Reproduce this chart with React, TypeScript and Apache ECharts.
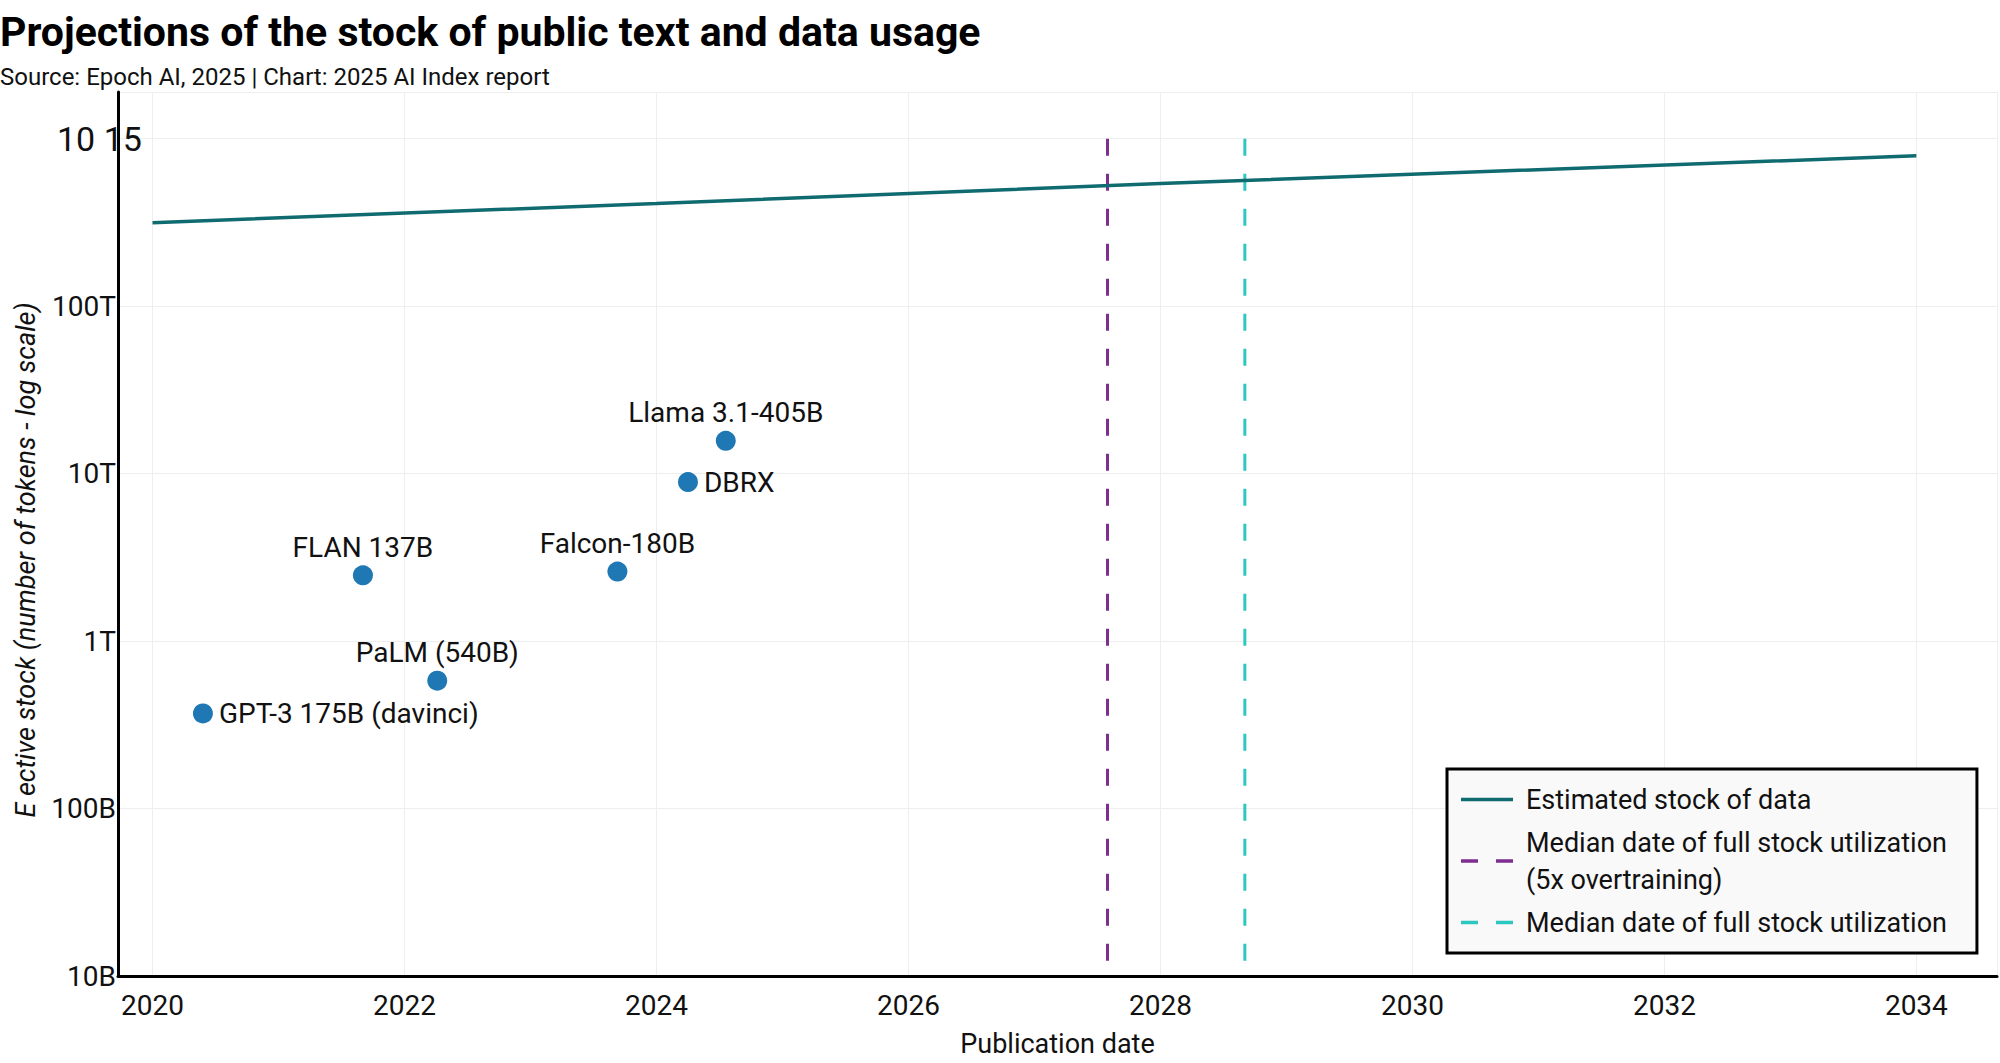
import { useEffect, useRef } from "react";
import * as echarts from "echarts";

// ---- data ----
const modelNames = [
  "GPT-3 175B (davinci)",
  "FLAN 137B",
  "PaLM (540B)",
  "Falcon-180B",
  "DBRX",
  "Llama 3.1-405B",
];
const modelDates = [2020.4, 2021.67, 2022.26, 2023.69, 2024.25, 2024.55];
const modelTokens = [3.7e11, 2.47e12, 5.8e11, 2.6e12, 8.9e12, 1.57e13];
const labelSides = ["right", "top", "top", "top", "right", "top"];

const stockYears = [2020, 2024, 2028, 2034];
const stockTokens = [3.15e14, 4.1e14, 5.4e14, 7.9e14];

const overtrainDate = 2027.58;
const fullUseDate = 2028.67;
const markerSpan = [1e15, 1e10];

const yTickExponents = [10, 11, 12, 13, 14, 15];
const yTickLabels = ["10B", "100B", "1T", "10T", "100T", "10 15"];

const stockName = "Estimated stock of data";
const overName = "Median date of full stock utilization\n(5x overtraining)";
const fullName = "Median date of full stock utilization";

const FONT = "Roboto, 'Noto Sans', 'DejaVu Sans', sans-serif";
const SOLID_ICON = "path://M0,0h52v3.5h-52z";
const DASH_ICON = "path://M0,0h17v3.5h-17z M35,0h17v3.5h-17z";

export default function App() {
  const ref = useRef<HTMLDivElement>(null);

  useEffect(() => {
    if (!ref.current) return;
    const chart = echarts.init(ref.current, undefined, { renderer: "svg" });

    const scatterData = modelNames.map((n, i) => ({
      name: n,
      value: [modelDates[i], modelTokens[i]],
      label: {
        position: labelSides[i],
        distance: labelSides[i] === "top" ? 3 : 6,
      },
    }));

    const option: any = {
      animation: false,
      backgroundColor: "#ffffff",
      textStyle: { fontFamily: FONT },
      title: [
        {
          text: "Projections of the stock of public text and data usage",
          left: 0,
          top: 9,
          padding: 0,
          textStyle: {
            fontFamily: FONT,
            fontSize: 41,
            fontWeight: "bold",
            color: "#000",
            lineHeight: 46,
          },
        },
        {
          text: "Source: Epoch AI, 2025 | Chart: 2025 AI Index report",
          left: 0,
          top: 63,
          padding: 0,
          textStyle: {
            fontFamily: FONT,
            fontSize: 24,
            fontWeight: "normal",
            color: "#111",
            lineHeight: 28,
          },
        },
      ],
      grid: { left: 118, right: 0, top: 92, bottom: 81 },
      xAxis: {
        type: "value",
        min: 2019.726,
        max: 2034.64,
        splitNumber: 7,
        name: "Publication date",
        nameLocation: "middle",
        nameGap: 54,
        nameTextStyle: { fontFamily: FONT, fontSize: 27, color: "#111", lineHeight: 28 },
        axisLine: { show: true, onZero: false, lineStyle: { color: "#000", width: 3 } },
        axisTick: { show: false },
        splitLine: { show: true, lineStyle: { color: "#eeeeee", width: 1 } },
        axisLabel: {
          fontFamily: FONT,
          fontSize: 28,
          lineHeight: 28,
          color: "#111",
          margin: 15,
          formatter: (v: number) =>
            Math.abs(v - Math.round(v)) < 1e-6 ? String(Math.round(v)) : "",
        },
      },
      yAxis: {
        type: "log",
        logBase: 10,
        min: 1e10,
        max: 1.9e15,
        axisLine: { show: true, lineStyle: { color: "#000", width: 3 } },
        axisTick: { show: false },
        splitLine: { show: true, lineStyle: { color: "#eeeeee", width: 1 } },
        axisLabel: {
          fontFamily: FONT,
          fontSize: 28,
          color: "#111",
          margin: 2,
          formatter: (v: number) => {
            const e = Math.log10(v);
            const r = Math.round(e);
            if (Math.abs(e - r) > 1e-6) return "";
            const idx = yTickExponents.indexOf(r);
            if (idx < 0) return "";
            if (idx === yTickExponents.length - 1) return "{big|" + yTickLabels[idx] + "}";
            return yTickLabels[idx];
          },
          rich: {
            big: { fontFamily: FONT, fontSize: 34, width: 59, align: "left", color: "#111" },
          },
        },
      },
      legend: {
        data: [
          { name: stockName, icon: SOLID_ICON },
          { name: overName, icon: DASH_ICON },
          { name: fullName, icon: DASH_ICON },
        ],
        orient: "vertical",
        left: 1447,
        top: 769,
        padding: [12, 30, 12, 14],
        itemWidth: 52,
        itemHeight: 3.5,
        itemGap: 6,
        selectedMode: false,
        backgroundColor: "#f9f9f9",
        borderColor: "#000",
        borderWidth: 3,
        borderRadius: 0,
        textStyle: {
          fontFamily: FONT,
          fontSize: 27,
          lineHeight: 37,
          color: "#111",
          padding: [0, 0, 0, 8],
        },
      },
      graphic: [
        {
          type: "text",
          x: 26,
          y: 560,
          rotation: Math.PI / 2,
          style: {
            text: "E ective stock (number of tokens - log scale)",
            fontFamily: FONT,
            fontSize: 27,
            fontStyle: "italic",
            fill: "#111",
            align: "center",
            verticalAlign: "middle",
          },
        },
      ],
      series: [
        {
          name: stockName,
          type: "line",
          data: stockYears.map((y, i) => [y, stockTokens[i]]),
          symbol: "none",
          color: "#0f6b70",
          lineStyle: { color: "#0f6b70", width: 3.5 },
          z: 3,
        },
        {
          name: overName,
          type: "line",
          data: markerSpan.map((t) => [overtrainDate, t]),
          symbol: "none",
          color: "#7e2d90",
          lineStyle: { color: "#7e2d90", width: 3, type: [17, 18] },
          z: 2,
        },
        {
          name: fullName,
          type: "line",
          data: markerSpan.map((t) => [fullUseDate, t]),
          symbol: "none",
          color: "#2cc7bf",
          lineStyle: { color: "#2cc7bf", width: 3, type: [17, 18] },
          z: 2,
        },
        {
          name: "Models",
          type: "scatter",
          data: scatterData,
          symbolSize: 20,
          itemStyle: { color: "#1f77b4", opacity: 1 },
          label: {
            show: true,
            formatter: "{b}",
            fontFamily: FONT,
            fontSize: 28,
            lineHeight: 30,
            color: "#111",
          },
          z: 4,
        },
      ],
    };

    chart.setOption(option);
    return () => chart.dispose();
  }, []);

  return (
    <div
      ref={ref}
      style={{ position: "absolute", left: 0, top: 0, width: 2000, height: 1063 }}
    />
  );
}
